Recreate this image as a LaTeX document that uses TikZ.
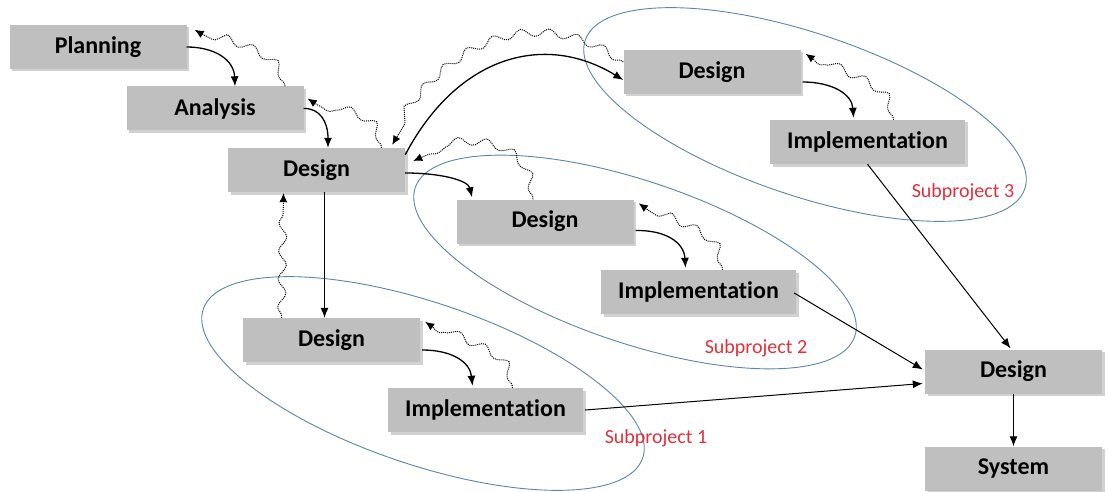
\documentclass[tikz,border=0pt]{standalone}
\usepackage{fontspec}
\setmainfont{Carlito}[Ligatures=NoCommon]
\usetikzlibrary{arrows.meta,decorations.pathmorphing,shadows,calc}
\definecolor{boxgray}{HTML}{BFBFBF}
\definecolor{grpblue}{HTML}{5B85AA}
\definecolor{lblred}{HTML}{E0303A}
\begin{document}
\begin{tikzpicture}[x=1pt,y=-1pt,
 box/.style={fill=boxgray, minimum width=177pt, minimum height=44pt, inner sep=0pt,
   font=\bfseries\fontsize{24}{28}\selectfont,
   drop shadow={shadow xshift=2.5pt, shadow yshift=-2.5pt, opacity=0.3, fill=black!60}},
 wbox/.style={box, minimum width=195pt},
 flow/.style={-{Latex[length=10pt,width=8pt]}, line width=1.3pt},
 thinflow/.style={-{Latex[length=10pt,width=8pt]}, line width=1pt},
 fb/.style={densely dotted, line width=1pt, -{Latex[length=9pt,width=8pt]}, decorate,
   decoration={snake, amplitude=4pt, segment length=28pt, pre length=2pt, post length=9pt}},
 grp/.style={draw=grpblue, line width=0.9pt},
 lbl/.style={text=lblred, font=\fontsize{20}{23}\selectfont}]
\useasboundingbox (0,0) rectangle (1108,492);

% subproject ellipses
\draw[grp, rotate around={-18.7:(423,383.5)}] (423,383.5) ellipse [x radius=232, y radius=81];
\draw[grp, rotate around={-18.7:(635,262)}] (635,262) ellipse [x radius=232, y radius=81];
\draw[grp, rotate around={-18.7:(805,114.5)}] (805,114.5) ellipse [x radius=232, y radius=81];

\node[lbl] (l1) at (656,438) {Subproject 1};
\node[lbl] (l2) at (756,348) {Subproject 2};
\node[lbl] (l3) at (963,192) {Subproject 3};

% boxes
\node[box] (plan) at (98,47) {Planning};
\node[box] (anal) at (215,108.5) {Analysis};
\node[box] (des) at (316.5,170) {Design};
\node[box] (d1) at (331.5,340) {Design};
\node[wbox] (i1) at (485.5,410) {Implementation};
\node[box] (d2) at (545,221.5) {Design};
\node[wbox] (i2) at (698.5,292) {Implementation};
\node[box] (d3) at (712,72) {Design};
\node[wbox] (i3) at (867.5,142) {Implementation};
\node[box] (df) at (1013.5,371.5) {Design};
\node[box] (sys) at (1013.5,468.5) {System};

% main flow
\draw[flow] (plan.east) .. controls (215,47) and (234,60) .. ($(anal.north)+(20,0)$);
\draw[flow] (anal.east) .. controls (320,108) and (328,122) .. ($(des.north)+(11.5,0)$);
\draw[thinflow] ($(des.south)+(8,0)$) -- ($(d1.north)+(-7,0)$);
\draw[flow] ($(des.east)+(0,3)$) .. controls (440,173) and (468,180) .. ($(d2.north)+(-73,-2)$);
\draw[flow] ($(des.north east)+(0,7)$) .. controls (458,55) and (545,32) .. ($(d3.west)+(0,8)$);

% feedback
\draw[fb] ($(anal.north)+(70,0)$) .. controls (280,55) and (225,50) .. ($(plan.north east)+(8,5)$);
\draw[fb] ($(des.north)+(65,0)$) .. controls (378,115) and (335,120) .. ($(anal.east)+(4,-10)$);
\draw[fb] ($(d1.north)+(-50,0)$) -- ($(des.south)+(-33,1)$);
\draw[fb] ($(d2.north)+(-12,0)$) .. controls (530,140) and (455,140) .. ($(des.east)+(8,-9)$);
\draw[fb] ($(d3.west)+(0,-10)$) .. controls (570,25) and (470,10) .. ($(des.north east)+(-13,-3)$);

% inside subprojects
\draw[flow] ($(d1.east)+(2,10)$) .. controls (452,350) and (470,362) .. ($(i1.north)+(-13,-2)$);
\draw[fb] ($(i1.north)+(27,0)$) .. controls (510,355) and (470,355) .. ($(d1.north east)+(5,4)$);
\draw[flow] ($(d2.east)+(2,9)$) .. controls (665,230) and (684,242) .. ($(i2.north)+(-13,-2)$);
\draw[fb] ($(i2.north)+(24,0)$) .. controls (720,235) and (683,237) .. ($(d2.north east)+(5,4)$);
\draw[flow] ($(d3.east)+(2,10)$) .. controls (832,82) and (852,94) .. ($(i3.north)+(-14,-2)$);
\draw[fb] ($(i3.north)+(26,0)$) .. controls (890,87) and (850,87) .. ($(d3.north east)+(5,4)$);

% to final design
\draw[thinflow] ($(i1.east)+(2,0)$) -- ($(df.west)+(-2,12)$);
\draw[thinflow] ($(i2.east)+(-2,1)$) -- ($(df.west)+(-2,-2)$);
\draw[thinflow] (i3.south) -- ($(df.north)+(-3,-1)$);
\draw[thinflow] (df.south) -- (sys.north);
\end{tikzpicture}
\end{document}
